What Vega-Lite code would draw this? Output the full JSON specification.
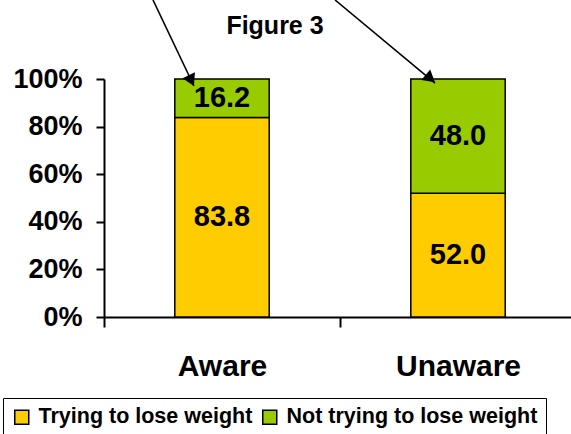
{
  "$schema": "https://vega.github.io/schema/vega-lite/v6.json",
  "autosize": {"type": "none"},
  "padding": {"left": 104, "top": 79, "right": 0, "bottom": 117},
  "width": 472,
  "height": 238,
  "background": "white",
  "title": {"text": "Figure 3", "font": "Liberation Sans", "fontSize": 25, "fontWeight": "bold", "color": "black", "anchor": "middle", "frame": "group", "dx": -65, "baseline": "alphabetic", "offset": -60},
  "config": {"view": {"stroke": null}, "font": "Liberation Sans"},
  "layer": [
    {
      "data": {"values": [
        {"group": "Aware", "status": "Trying to lose weight", "pct": 83.8, "s": 1},
        {"group": "Aware", "status": "Not trying to lose weight", "pct": 16.2, "s": 2},
        {"group": "Unaware", "status": "Trying to lose weight", "pct": 52.0, "s": 1},
        {"group": "Unaware", "status": "Not trying to lose weight", "pct": 48.0, "s": 2}
      ]},
      "transform": [
        {"stack": "pct", "groupby": ["group"], "sort": [{"field": "s"}], "as": ["y0", "y1"]},
        {"calculate": "(datum.y0 + datum.y1) / 2", "as": "mid"}
      ],
      "encoding": {
        "x": {"field": "group", "type": "nominal", "sort": ["Aware", "Unaware"],
          "scale": {"paddingInner": 0.6, "paddingOuter": 0.3},
          "axis": {"title": null, "labelAngle": 0, "domainColor": "black", "domainWidth": 2, "tickOffset": -118, "labelOffset": 118, "tickColor": "black", "tickWidth": 2, "tickSize": 10, "labelFontSize": 30, "labelFontWeight": "bold", "labelColor": "black", "labelPadding": 24, "labelFont": "Liberation Sans"}}
      },
      "layer": [
        {
          "mark": {"type": "bar", "stroke": "black", "strokeWidth": 1.5},
          "encoding": {
            "y": {"field": "y0", "type": "quantitative", "title": null, "scale": {"domain": [0, 100], "nice": false},
              "axis": {"values": [0, 20, 40, 60, 80, 100], "title": null, "grid": false, "domainColor": "black", "domainWidth": 2, "tickColor": "black", "tickWidth": 2, "tickSize": 8, "labelFontSize": 27, "labelFontWeight": "bold", "labelColor": "black", "labelPadding": 14, "labelFont": "Liberation Sans", "labelExpr": "datum.value + '%'"}},
            "y2": {"field": "y1"},
            "color": {"field": "status", "type": "nominal",
              "scale": {"domain": ["Trying to lose weight", "Not trying to lose weight"], "range": ["#FFCC00", "#99CC00"]},
              "legend": {"orient": "none", "legendX": -101, "legendY": 319, "direction": "horizontal", "title": null, "symbolType": "square", "symbolSize": 196, "symbolStrokeColor": "black", "symbolStrokeWidth": 1.5, "labelFontSize": 21.5, "labelFontWeight": "bold", "labelColor": "black", "labelFont": "Liberation Sans", "labelLimit": 400, "strokeColor": "black", "padding": 8, "columnPadding": 6, "labelOffset": 6, "fillColor": "white"}}
          }
        },
        {
          "mark": {"type": "text", "fontSize": 29, "fontWeight": "bold", "font": "Liberation Sans", "color": "black", "baseline": "middle"},
          "encoding": {
            "y": {"field": "mid", "type": "quantitative", "title": null},
            "text": {"field": "pct", "type": "quantitative", "format": ".1f"}
          }
        }
      ]
    },
    {
      "data": {"values": [
        {"id": "a", "x1": 0.2076, "y1": 133.2, "x2": 0.381, "y2": 97.06, "hx": 0.37, "hy": 99.3},
        {"id": "b", "x1": 0.979, "y1": 133.2, "x2": 1.4025, "y2": 98.3, "hx": 1.383, "hy": 100.2}
      ]},
      "layer": [
        {
          "mark": {"type": "rule", "color": "black", "strokeWidth": 1.6},
          "encoding": {
            "x": {"field": "x1", "type": "quantitative", "scale": {"domain": [0, 2], "nice": false}, "axis": null},
            "x2": {"field": "x2"},
            "y": {"field": "y1", "type": "quantitative", "title": null},
            "y2": {"field": "y2"}
          }
        },
        {
          "transform": [{"filter": "datum.id == 'a'"}],
          "mark": {"type": "point", "shape": "triangle-down", "filled": true, "color": "black", "size": 190, "angle": 334.5, "opacity": 1},
          "encoding": {
            "x": {"field": "hx", "type": "quantitative", "scale": {"domain": [0, 2], "nice": false}, "axis": null},
            "y": {"field": "hy", "type": "quantitative", "title": null}
          }
        },
        {
          "transform": [{"filter": "datum.id == 'b'"}],
          "mark": {"type": "point", "shape": "triangle-down", "filled": true, "color": "black", "size": 190, "angle": 309.7, "opacity": 1},
          "encoding": {
            "x": {"field": "hx", "type": "quantitative", "scale": {"domain": [0, 2], "nice": false}, "axis": null},
            "y": {"field": "hy", "type": "quantitative", "title": null}
          }
        }
      ]
    }
  ],
  "resolve": {"scale": {"x": "independent"}}
}
